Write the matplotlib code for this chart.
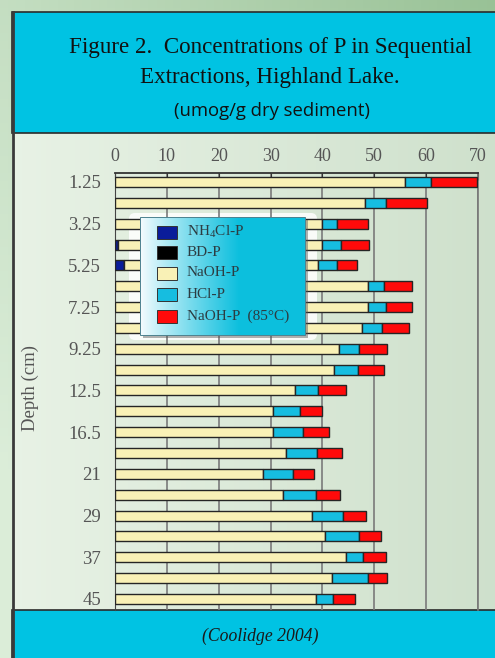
import numpy as np
import matplotlib
matplotlib.use("Agg")
import matplotlib.pyplot as plt
from matplotlib.patches import Rectangle, FancyBboxPatch

plt.rcParams['mathtext.fontset'] = 'custom'
plt.rcParams['mathtext.rm'] = 'Liberation Serif'
plt.rcParams['mathtext.it'] = 'Liberation Serif:italic'

# depth labels (every other bar is labelled in the original)
depth_labels = ['1.25', '', '3.25', '', '5.25', '', '7.25', '', '9.25', '',
                '12.5', '', '16.5', '', '21', '', '29', '', '37', '', '45']

series_names = [r'NH$_4$Cl-P', 'BD-P', 'NaOH-P', 'HCl-P', 'NaOH-P  (85°C)']
series_colors = ['#0a1c9a', '#000000', '#f9f1b6', '#16bde0', '#ff0a0a']

nh4cl = [0, 0, 0, 0.6, 1.7, 0, 0, 0, 0, 0, 0, 0, 0, 0, 0, 0, 0, 0, 0, 0, 0]
bd = [0, 0, 0, 0, 0, 0, 0, 0, 0, 0, 0, 0, 0, 0, 0, 0, 0, 0, 0, 0, 0]
naoh = [56.0, 48.3, 40.0, 39.4, 37.5, 48.8, 48.8, 47.7, 43.1, 42.3, 34.7,
        30.5, 30.5, 32.9, 28.5, 32.4, 38.0, 40.4, 44.5, 41.8, 38.7]
hcl = [4.9, 3.9, 2.9, 3.5, 3.7, 3.1, 3.4, 3.7, 3.9, 4.6, 4.4,
       5.2, 5.8, 6.0, 5.9, 6.4, 6.0, 6.6, 3.3, 7.0, 3.4]
naoh85 = [9.0, 8.0, 5.8, 5.5, 3.8, 5.4, 5.1, 5.3, 5.4, 5.0, 5.4,
          4.3, 5.0, 4.8, 4.0, 4.5, 4.4, 4.2, 4.4, 3.6, 4.2]

W, H = 495, 658
fig = plt.figure(figsize=(W / 100, H / 100), dpi=100)

# ---- background layer (pixel coords)
bg = fig.add_axes([0, 0, 1, 1])
bg.axis('off')

xx, yy = np.meshgrid(np.linspace(0, 1, 60), np.linspace(0, 1, 80))
t = np.clip(0.65 * xx + 0.5 * (1 - yy) - 0.15, 0, 1)[..., None]
light = np.array([0.86, 0.93, 0.85])
dark = np.array([0.60, 0.76, 0.59])
bg.imshow(light * (1 - t) + dark * t, extent=[0, W, H, 0], aspect='auto', zorder=0)

# chart panel
px = np.linspace(0, 1, 100)[None, :, None] * np.ones((10, 1, 1))
pl = np.array([0.91, 0.95, 0.90])
pr = np.array([0.81, 0.88, 0.80])
bg.imshow(pl * (1 - px) + pr * px, extent=[12, W, 610, 133], aspect='auto', zorder=1)

# white glow behind the legend
bg.add_patch(FancyBboxPatch((129, 213), 188, 127, boxstyle="round,pad=0,rounding_size=6",
                            fc='white', ec='none', alpha=0.85, zorder=2))

# blue header / footer
bg.add_patch(Rectangle((12, 12), W, 121, fc='#00c3e3', ec='#2b2b2b', lw=1.2, zorder=3))
bg.add_patch(Rectangle((12, 610), W, 60, fc='#00c3e3', ec='#2b2b2b', lw=1.2, zorder=3))
bg.plot([13, 13], [12, H], color='#3a3a3a', lw=2, zorder=4)
bg.set_xlim(0, W)
bg.set_ylim(H, 0)

bg.text(270, 48, 'Figure 2.  Concentrations of P in Sequential', ha='center', va='center',
        fontsize=16.6, family='Liberation Serif', color='#111111', zorder=5)
bg.text(270, 77, 'Extractions, Highland Lake.', ha='center', va='center',
        fontsize=16.6, family='Liberation Serif', color='#111111', zorder=5)
bg.text(272, 111, '(umog/g dry sediment)', ha='center', va='center',
        fontsize=13.3, family='Open Sans', color='#111111', zorder=5)
bg.text(260, 636, '(Coolidge 2004)', ha='center', va='center', style='italic',
        fontsize=12.7, family='Liberation Serif', color='#1a1a1a', zorder=5)
bg.text(30, 388, 'Depth (cm)', ha='center', va='center', rotation=90,
        fontsize=13.5, family='Liberation Serif', color='#555555', zorder=5)

# ---- chart
ax = fig.add_axes([115 / W, 1 - 610 / H, 363 / W, 437 / H])
ax.patch.set_alpha(0)
ypos = np.arange(len(depth_labels))
left = np.zeros(len(depth_labels))
for vals, col in zip([nh4cl, bd, naoh, hcl, naoh85], series_colors):
    vals = np.array(vals, dtype=float)
    ax.barh(ypos, vals, left=left, height=0.48, color=col, edgecolor='#252525',
            linewidth=1.0, zorder=3)
    left += vals

ax.set_xlim(0, 70)
ax.set_ylim(20.53, -0.43)
ax.set_xticks(np.arange(0, 71, 10))
ax.xaxis.tick_top()
ax.tick_params(axis='x', direction='in', length=5, color='#333333', pad=6,
               labelsize=13, labelcolor='#555555')
ax.set_yticks(ypos)
ax.set_yticklabels(depth_labels)
ax.tick_params(axis='y', length=0, pad=10, labelsize=13.5, labelcolor='#555555')
for lab in ax.get_xticklabels() + ax.get_yticklabels():
    lab.set_family('Liberation Serif')
ax.xaxis.grid(True, color='#7a7a7a', lw=1.2, zorder=1)
ax.set_axisbelow(True)
ax.spines['bottom'].set_visible(False)
ax.spines['top'].set_color('#333333')
ax.spines['top'].set_linewidth(1.3)
ax.spines['left'].set_color('#444444')
ax.spines['right'].set_color('#777777')
ax.spines['right'].set_linewidth(1.2)

# ---- legend overlay
ov = fig.add_axes([0, 0, 1, 1])
ov.axis('off')
ov.patch.set_alpha(0)
ov.add_patch(FancyBboxPatch((143, 220), 165, 118, boxstyle="square,pad=0",
                            fc='#555555', ec='none', alpha=0.45, zorder=1))
gx = np.clip(np.linspace(0, 1, 200) / 0.6, 0, 1) ** 0.9
gx = gx[None, :, None] * np.ones((5, 1, 1))
white = np.array([0.97, 0.99, 1.0])
cyan = np.array([0.05, 0.75, 0.87])
ov.imshow(white * (1 - gx) + cyan * gx, extent=[140, 305, 335, 217], aspect='auto', zorder=2)
ov.add_patch(Rectangle((140, 217), 165, 118, fc='none', ec='#4d8290', lw=0.7, zorder=3))
rows = [232, 252, 273, 294, 316]
for name, col, ry in zip(series_names, series_colors, rows):
    ov.add_patch(Rectangle((157, ry - 6.5), 20, 13, fc=col, ec='#333333', lw=0.7, zorder=4))
    ov.text(187, ry, name, ha='left', va='center', fontsize=11,
            family='Liberation Serif', color='#2c3c42', zorder=5)
ov.set_xlim(0, W)
ov.set_ylim(H, 0)

fig.savefig('out.png', dpi=100)
